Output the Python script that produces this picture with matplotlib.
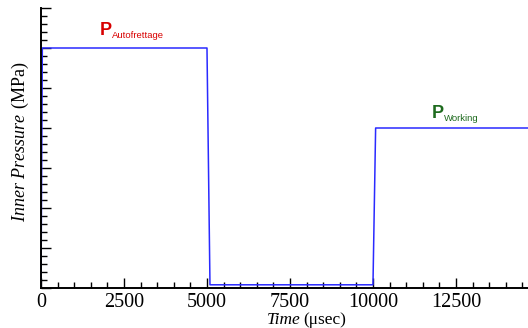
import numpy as np
import matplotlib
matplotlib.use("Agg")
from matplotlib import pyplot as plt
from matplotlib.ticker import MultipleLocator

# Pressure history: autofrettage stage, unloading, then working pressure
time_us = [0, 40, 5000, 5090, 10000, 10080, 14700]
pressure = [0, 600, 600, 8, 8, 400, 400]

x_major = 2500
x_minor = 500
y_major = 100
y_minor = 20

plt.rcParams['mathtext.fontset'] = 'custom'
plt.rcParams['mathtext.it'] = 'Liberation Serif:italic'
plt.rcParams['mathtext.rm'] = 'Liberation Serif'

fig = plt.figure(figsize=(5.28, 3.28), dpi=100)
ax = fig.add_axes([41 / 528, 40 / 328, 487 / 528, 280 / 328])

ax.plot(time_us, pressure, color='#2a2aff', lw=1.1)

ax.set_xlim(0, 14670)
ax.set_ylim(0, 700)
ax.xaxis.set_major_locator(MultipleLocator(x_major))
ax.xaxis.set_minor_locator(MultipleLocator(x_minor))
ax.yaxis.set_major_locator(MultipleLocator(y_major))
ax.yaxis.set_minor_locator(MultipleLocator(y_minor))
ax.set_yticklabels([])

for side in ['top', 'right']:
    ax.spines[side].set_visible(False)
for side in ['left', 'bottom']:
    ax.spines[side].set_linewidth(1.4)

ax.tick_params(which='major', direction='in', length=7, width=1, pad=3.5)
ax.tick_params(which='minor', direction='in', length=4, width=1)
ax.tick_params(axis='x', labelsize=14.5)
for lbl in ax.get_xticklabels():
    lbl.set_fontfamily('Liberation Serif')


def stage_label(x, y, sub, color):
    # big P followed by a small subscript word
    p = ax.text(x, y, 'P', color=color, fontsize=13, fontweight='bold',
                family='Liberation Sans', ha='left', va='baseline')
    fig.canvas.draw()
    bb = p.get_window_extent()
    xs = ax.transData.inverted().transform((bb.x1 + 0.5, 0))[0]
    ax.text(xs, y - 8, sub, color=color, fontsize=6.8,
            family='Liberation Sans', ha='left', va='baseline')


stage_label(1760, 632, 'Autofrettage', '#d80000')
stage_label(11760, 425, 'Working', '#1e6b1e')

# axis titles
t1 = fig.text(267 / 528, 1 - 324 / 328, 'Time', fontsize=12.5, style='italic',
              family='Liberation Serif', ha='left', va='baseline')
fig.canvas.draw()
bb = t1.get_window_extent()
fig.text((bb.x1 + 2) / 528, 1 - 324 / 328, '(μsec)', fontsize=12.5,
         family='Liberation Serif', ha='left', va='baseline')
fig.text(20 / 528, 1 - 142 / 328, r'$\mathit{Inner\ Pressure}$ $\mathrm{(MPa)}$',
         fontsize=13, rotation=90, ha='center', va='center')

fig.savefig('out.png', dpi=100)
